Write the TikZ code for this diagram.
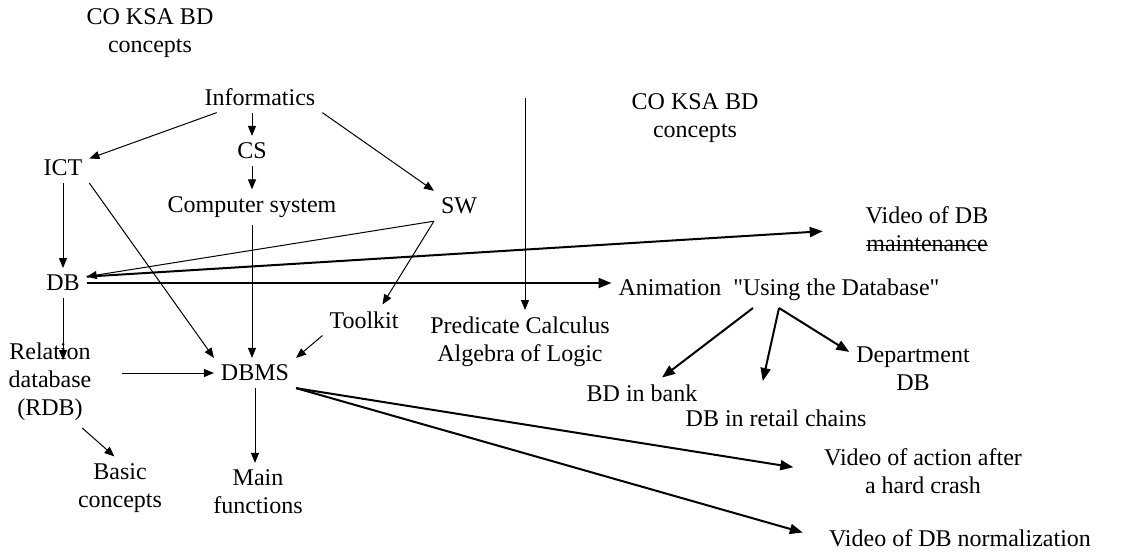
\documentclass[tikz,border=0pt]{standalone}
\usepackage{fontspec}
\setmainfont{Liberation Serif}[Ligatures=TeXOff]
\usetikzlibrary{arrows.meta}
\newcommand{\strikeword}[1]{\setbox0\hbox{#1}\rlap{\rule[0.5ex]{\wd0}{0.5pt}}\box0}

\begin{document}
\begin{tikzpicture}[x=0.5pt, y=-0.5pt, font=\fontsize{12}{14}\selectfont,
    every node/.style={align=center},
    link/.style={-{Triangle[length=5pt,width=4pt]}, line width=0.5pt},
    heavy/.style={-{Triangle[length=6.5pt,width=5pt]}, line width=1pt}]
    \useasboundingbox (0,0) rectangle (1127,558);
    % Titles
    \node (title) at (150,33) {CO KSA BD\\concepts};
    \node (title2) at (695,118) {CO KSA BD\\concepts};
    % Upper concepts
    \node (info) at (260,97) {Informatics};
    \node (cs) at (252,151) {CS};
    \node (comp) at (252,207) {Computer system};
    \node (ict) at (63,168) {ICT};
    \node (sw) at (459,206) {SW};
    \node (db) at (63,283) {DB};
    \node (tool) at (364,320) {Toolkit};
    \node (pred) at (520,342) {Predicate Calculus\\Algebra of Logic};
    % DBMS and its neighbours
    \node (rdb) at (50,382) {Relation\\database\\(RDB)};
    \node (dbms) at (255,373) {DBMS};
    \node (basic) at (120,488) {Basic\\concepts};
    \node (main) at (258,492) {Main\\functions};
    % Media
    \node (anim) at (779,290) {Animation\ \ "Using the Database"};
    \node (vid1) at (927,229) {Video of DB\\\strikeword{maintenance}};
    \node (bank) at (642,393) {BD in bank};
    \node (retail) at (776,418) {DB in retail chains};
    \node (dept) at (913,369) {Department\\DB};
    \node (vid2) at (923,471) {Video of action after\\a hard crash};
    \node (vid3) at (960,538) {Video of DB normalization};
    % Informatics branches
    \draw [link] (info) -- (ict);
    \draw [link] (info.south -| cs) -- (cs);
    \draw [link] (cs) -- (comp);
    \draw [link] (info.south east) -- (sw.north west);
    % ICT
    \draw [link] (ict) -- (db);
    \draw [link] (ict.south east) -- (dbms.north west);
    % SW
    \draw [link] (sw.south west) -- (db.15);
    \draw [link] (sw.south west) -- (tool.40);
    % DB
    \draw [heavy, shorten >=18pt] (db.15) -- (vid1.west);
    \draw [heavy] (db.east) -- (db.east -| anim.west);
    \draw [link, shorten >=11pt] (db.south) -- (db.south |- rdb);
    % Predicate calculus
    \coordinate (predtop) at (525,98);
    \draw [link] (predtop) -- (predtop |- pred.north);
    % Into DBMS
    \draw [link] (comp.south) -- (comp.south |- dbms.north);
    \draw [link] (tool.south west) -- (dbms.north east);
    \draw [link, shorten <=12pt] (rdb.east |- dbms) -- (dbms.west);
    \draw [link] (rdb.-55) -- (basic.100);
    \draw [link] (dbms.south) -- (dbms.south |- main.north);
    % Out of DBMS
    \draw [heavy, shorten >=12pt] (dbms.south east) -- (vid2.west);
    \draw [heavy, shorten >=10pt] (dbms.south east) -- (vid3.west);
    % Animation
    \draw [heavy] ([xshift=-13pt]anim.south) -- ([xshift=10pt]bank.north);
    \draw [heavy, shorten >=11pt] (anim.south) -- ([xshift=-9pt]retail.north);
    \draw [heavy] (anim.south) -- (dept.165);
\end{tikzpicture}
\end{document}
